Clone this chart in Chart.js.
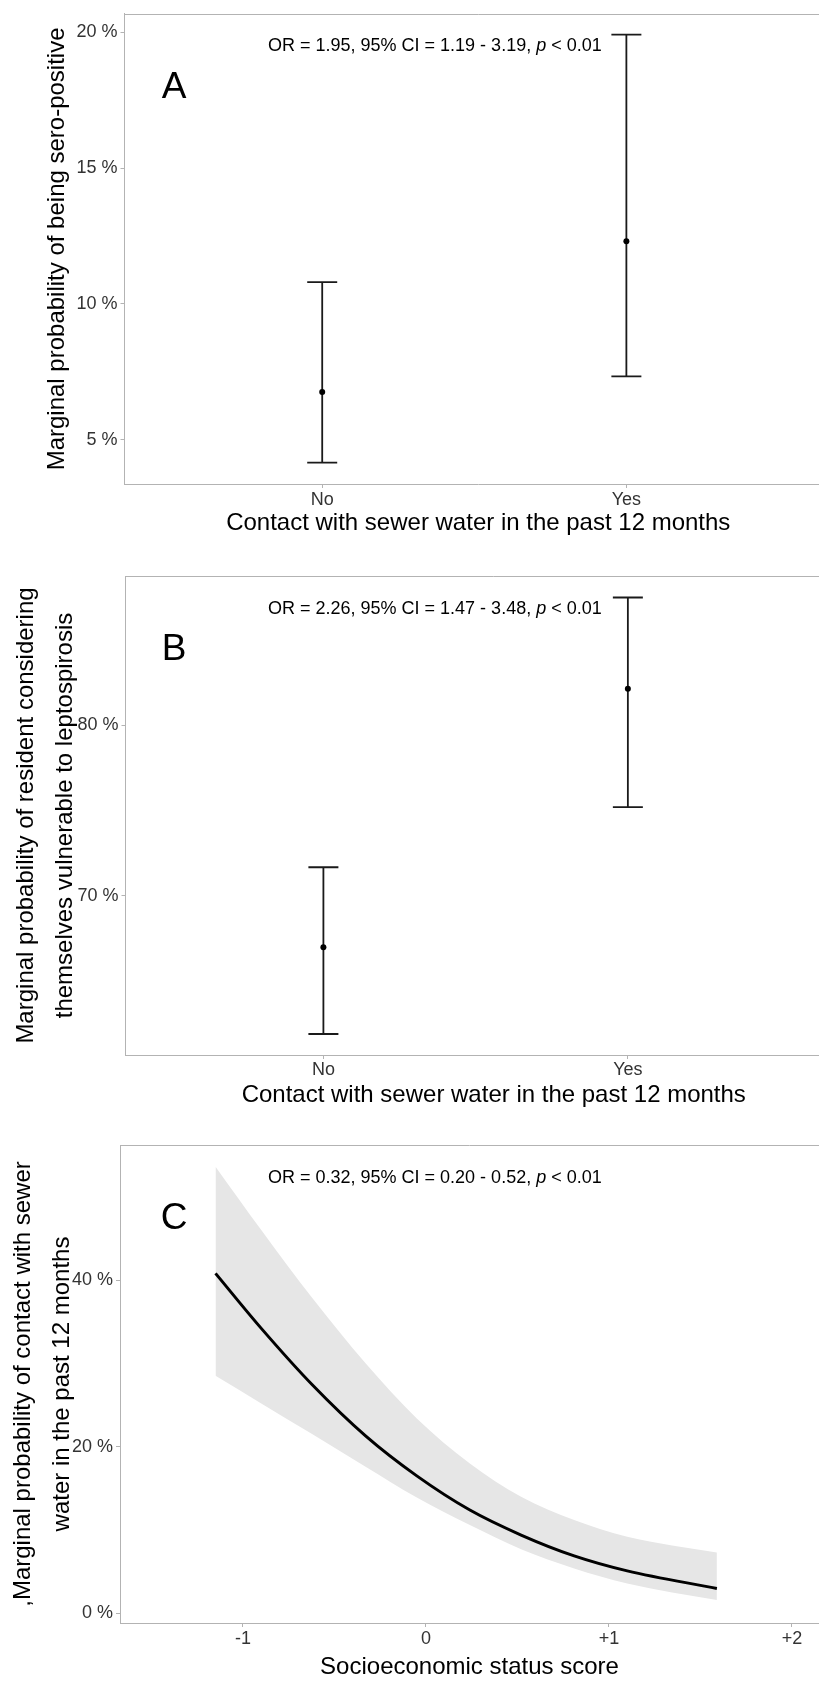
<!DOCTYPE html>
<html>
<head>
<meta charset="utf-8">
<script src="https://cdn.jsdelivr.net/npm/chart.js@4.4.0/dist/chart.umd.min.js"></script>
<style>
  html, body { margin: 0; padding: 0; background: #fff; }
  body { width: 819px; height: 1682px; position: relative; overflow: hidden; }
  canvas { position: absolute; left: 0; }
</style>
</head>
<body>
<canvas id="chartA" width="836" height="545" style="top:0px"></canvas>
<canvas id="chartB" width="866" height="565" style="top:545px"></canvas>
<canvas id="chartC" width="819" height="572" style="top:1110px"></canvas>
<script>
// --- data (percent) ---
var categories = ['No', 'Yes'];

// A: sero-positive
var seroEstimate = [6.76, 12.31];
var seroLow = [4.16, 7.33];
var seroHigh = [10.80, 19.91];
var seroTicks = [5, 10, 15, 20];

// B: considers themselves vulnerable
var vulnEstimate = [67.0, 82.13];
var vulnLow = [61.92, 75.2];
var vulnHigh = [71.68, 87.47];
var vulnTicks = [70, 80];

// C: contact with sewer water by SES score
var sesScore =    [-1.15, -0.9, -0.62, -0.33, -0.05, 0.24, 0.52, 0.81, 1.1, 1.59];
var contactFit =  [40.8, 34.2, 27.4, 21.3, 16.5, 12.4, 9.4, 6.9, 5.1, 3.0];
var contactHigh = [53.6, 46.0, 37.8, 30.0, 23.4, 18.0, 14.0, 11.2, 9.2, 7.3];
var contactLow =  [28.5, 25.2, 21.5, 17.6, 13.9, 10.6, 7.7, 5.4, 3.6, 1.6];
var sesTicks = [-1, 0, 1, 2];
var sesTickLabels = ['-1', '0', '+1', '+2'];
var contactTicks = [0, 20, 40];

var FONT = '"Liberation Sans", Arial, Helvetica, sans-serif';
var axisGrey = '#b3b3b3';
var tickText = '#333333';

// error bars with caps, drawn through the chart's scales
var errorBarPlugin = {
  id: 'errorBars',
  beforeDatasetsDraw: function(chart, args, opts) {
    if (!opts.low) return;
    var ctx = chart.ctx, xs = chart.scales.x, ys = chart.scales.y;
    ctx.save();
    ctx.strokeStyle = '#1a1a1a';
    ctx.lineWidth = 1.8;
    opts.low.forEach(function(lo, i) {
      var px = xs.getPixelForValue(i + 1);
      var pLo = ys.getPixelForValue(lo);
      var pHi = ys.getPixelForValue(opts.high[i]);
      ctx.beginPath();
      ctx.moveTo(px, pLo); ctx.lineTo(px, pHi);
      ctx.moveTo(px - 15, pLo); ctx.lineTo(px + 15, pLo);
      ctx.moveTo(px - 15, pHi); ctx.lineTo(px + 15, pHi);
      ctx.stroke();
    });
    ctx.restore();
  }
};

// top border, panel letter, OR text
var panelTextPlugin = {
  id: 'panelText',
  afterDraw: function(chart, args, opts) {
    var ctx = chart.ctx, a = chart.chartArea;
    ctx.save();
    ctx.strokeStyle = axisGrey;
    ctx.lineWidth = 1;
    ctx.beginPath();
    ctx.moveTo(a.left, Math.round(a.top) + 0.5);
    ctx.lineTo(a.right, Math.round(a.top) + 0.5);
    ctx.stroke();

    ctx.fillStyle = '#000';
    ctx.textBaseline = 'alphabetic';
    ctx.textAlign = 'center';
    ctx.font = '37px ' + FONT;
    ctx.fillText(opts.letter, 174, a.top + 84);

    ctx.textAlign = 'left';
    var x = 268, y = a.top + 37.5;
    ctx.font = '18px ' + FONT;
    ctx.fillText(opts.before, x, y);
    x += ctx.measureText(opts.before).width;
    ctx.font = 'italic 18px ' + FONT;
    ctx.fillText('p', x, y);
    x += ctx.measureText('p').width;
    ctx.font = '18px ' + FONT;
    ctx.fillText(opts.after, x, y);
    ctx.restore();
  }
};

function yScale(min, max, ticks, width, title, titlePad, lineHeight) {
  return {
    type: 'linear', position: 'left', min: min, max: max,
    afterBuildTicks: function(s) { s.ticks = ticks.map(function(v) { return {value: v}; }); },
    afterFit: function(s) { s.width = width; },
    border: {display: true, color: axisGrey, width: 1},
    grid: {display: true, drawOnChartArea: false, drawTicks: true, tickLength: 4, tickColor: axisGrey},
    ticks: {
      padding: 3, color: tickText, font: {family: FONT, size: 18},
      callback: function(v) { return v + ' %'; }
    },
    title: {
      display: true, text: title, color: '#000',
      font: {family: FONT, size: 24, lineHeight: lineHeight},
      padding: {top: titlePad, bottom: 0}
    }
  };
}

function xScale(min, max, ticks, labelFn, height, tickPad, title) {
  return {
    type: 'linear', position: 'bottom', min: min, max: max,
    afterBuildTicks: function(s) { s.ticks = ticks.map(function(v) { return {value: v}; }); },
    afterFit: function(s) { s.height = height; },
    border: {display: true, color: axisGrey, width: 1},
    grid: {display: true, drawOnChartArea: false, drawTicks: true, tickLength: 4, tickColor: axisGrey},
    ticks: {
      padding: tickPad, color: tickText, font: {family: FONT, size: 18},
      maxRotation: 0, autoSkip: false,
      callback: labelFn
    },
    title: {
      display: true, text: title, color: '#000',
      font: {family: FONT, size: 24, lineHeight: 1.2},
      padding: {top: 0, bottom: 0}
    }
  };
}

function categoryLabel(v) { return categories[v - 1]; }

function errorChart(id, est, low, high, yMin, yMax, yTicks, yWidth, yTitle, yTitlePad, yLineHeight,
                    xMax, xHeight, xPad, padTop, padBottom, letter, stat) {
  var pts = categories.map(function(c, i) { return {x: i + 1, y: est[i]}; });
  new Chart(document.getElementById(id), {
    type: 'scatter',
    data: {datasets: [{
      data: pts, pointRadius: 3, pointBackgroundColor: '#000', pointBorderWidth: 0
    }]},
    options: {
      responsive: false, animation: false, devicePixelRatio: 1, events: [],
      layout: {padding: {top: padTop, bottom: padBottom, left: 0, right: 0}},
      plugins: {
        legend: {display: false}, tooltip: {enabled: false},
        errorBars: {low: low, high: high},
        panelText: {letter: letter, before: stat[0], after: stat[1]}
      },
      scales: {
        x: xScale(0.35, xMax, [1, 2], categoryLabel, xHeight, xPad,
                  'Contact with sewer water in the past 12 months'),
        y: yScale(yMin, yMax, yTicks, yWidth, yTitle, yTitlePad, yLineHeight)
      }
    },
    plugins: [errorBarPlugin, panelTextPlugin]
  });
}

errorChart('chartA', seroEstimate, seroLow, seroHigh, 3.37, 20.68, seroTicks, 124.5,
  'Marginal probability of being sero-positive', 43, 1.2,
  2.676, 53.4, 1.2, 7, 7.6, 'A', ['OR = 1.95, 95% CI = 1.19 - 3.19, ', ' < 0.01']);

errorChart('chartB', vulnEstimate, vulnLow, vulnHigh, 60.69, 88.73, vulnTicks, 125.5,
  ['Marginal probability of resident considering', 'themselves vulnerable to leptospirosis'], 6.5, 1.625,
  2.769, 55, 0, 31, 0, 'B', ['OR = 2.26, 95% CI = 1.47 - 3.48, ', ' < 0.01']);

new Chart(document.getElementById('chartC'), {
  type: 'line',
  data: {
    labels: sesScore,
    datasets: [
      {data: sesScore.map(function(x, i) { return {x: x, y: contactFit[i]}; }),
       borderColor: '#000', borderWidth: 3, pointRadius: 0, fill: false, cubicInterpolationMode: 'monotone'},
      {data: sesScore.map(function(x, i) { return {x: x, y: contactHigh[i]}; }),
       borderWidth: 0, pointRadius: 0, backgroundColor: '#e6e6e6', fill: '+1', cubicInterpolationMode: 'monotone'},
      {data: sesScore.map(function(x, i) { return {x: x, y: contactLow[i]}; }),
       borderWidth: 0, pointRadius: 0, fill: false, cubicInterpolationMode: 'monotone'}
    ]
  },
  options: {
    responsive: false, animation: false, devicePixelRatio: 1, events: [],
    layout: {padding: {top: 35, bottom: 0.6, left: 0, right: 0}},
    plugins: {
      legend: {display: false}, tooltip: {enabled: false},
      panelText: {letter: 'C', before: 'OR = 0.32, 95% CI = 0.20 - 0.52, ', after: ' < 0.01'}
    },
    scales: {
      x: xScale(-1.672, 2.148, sesTicks, function(v, i) { return sesTickLabels[i]; }, 58.4, 1.6,
                'Socioeconomic status score'),
      y: yScale(-1.15, 56.2, contactTicks, 120, [',Marginal probability of contact with sewer',
                'water in the past 12 months'], 4, 1.633)
    }
  },
  plugins: [panelTextPlugin]
});
</script>
</body>
</html>
